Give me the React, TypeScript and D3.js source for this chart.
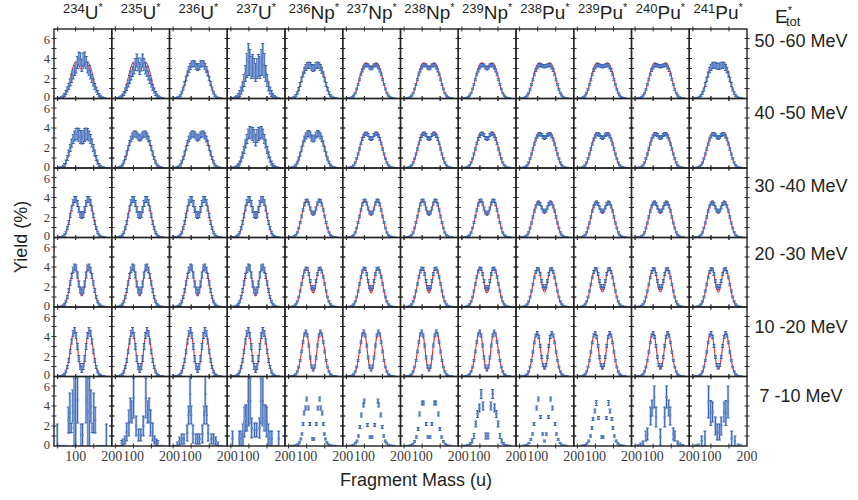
import React from 'react';
import * as d3 from 'd3';

// columns: compound nuclei
const ELEMENTS = ['U', 'U', 'U', 'U', 'Np', 'Np', 'Np', 'Np', 'Pu', 'Pu', 'Pu', 'Pu'];
const MASS_NUMBERS = [234, 235, 236, 237, 236, 237, 238, 239, 238, 239, 240, 241];
// rows: excitation energy bins
const ENERGY_BINS = ['50 -60 MeV', '40 -50 MeV', '30 -40 MeV', '20 -30 MeV', '10 -20 MeV', '7 -10 MeV'];

const Y_LABELS = [0, 2, 4, 6];
const Y_TICKS = [1, 2, 3, 4, 5, 6];
const X_LABELS = [100, 200];
const X_TICKS = [50, 100, 150];

// distance from symmetric mass A/2 (u), yields are symmetric
const OFFSETS = [0, 4, 8, 12, 16, 20, 24, 28, 32, 36, 40, 44, 48, 52, 56, 60, 64];

// model curves (red), rows 1-5, by element group
const MODEL_U = [
  [2.9, 3.0, 3.3, 3.6, 3.65, 3.5, 3.15, 2.65, 2.05, 1.45, 0.95, 0.55, 0.28, 0.12, 0.05, 0.02, 0.01],
  [2.7, 2.85, 3.2, 3.5, 3.6, 3.45, 3.1, 2.6, 2.0, 1.4, 0.9, 0.5, 0.25, 0.1, 0.04, 0.01, 0],
  [1.9, 2.1, 2.7, 3.4, 3.85, 3.9, 3.6, 3.0, 2.25, 1.5, 0.9, 0.45, 0.2, 0.08, 0.03, 0.01, 0],
  [1.1, 1.4, 2.2, 3.2, 3.9, 4.1, 3.85, 3.2, 2.4, 1.6, 0.95, 0.5, 0.22, 0.09, 0.03, 0.01, 0],
  [0.45, 0.8, 1.7, 3.0, 4.1, 4.6, 4.35, 3.6, 2.6, 1.65, 0.95, 0.45, 0.18, 0.06, 0.02, 0.01, 0],
];
const MODEL_NP = [
  [3.2, 3.25, 3.4, 3.55, 3.55, 3.4, 3.05, 2.6, 2.0, 1.4, 0.9, 0.5, 0.25, 0.1, 0.04, 0.01, 0],
  [2.85, 3.0, 3.3, 3.55, 3.6, 3.45, 3.05, 2.55, 1.95, 1.35, 0.85, 0.48, 0.22, 0.09, 0.03, 0.01, 0],
  [2.2, 2.4, 2.9, 3.45, 3.8, 3.75, 3.4, 2.8, 2.1, 1.45, 0.88, 0.45, 0.2, 0.08, 0.03, 0.01, 0],
  [1.4, 1.65, 2.4, 3.3, 3.85, 3.95, 3.65, 3.05, 2.3, 1.55, 0.92, 0.48, 0.21, 0.08, 0.03, 0.01, 0],
  [0.55, 0.9, 1.8, 3.05, 4.1, 4.5, 4.25, 3.5, 2.55, 1.6, 0.9, 0.45, 0.18, 0.06, 0.02, 0.01, 0],
];
const MODEL_PU = [
  [3.15, 3.2, 3.4, 3.55, 3.55, 3.4, 3.05, 2.6, 2.0, 1.4, 0.9, 0.5, 0.25, 0.1, 0.04, 0.01, 0],
  [2.9, 3.0, 3.3, 3.5, 3.55, 3.4, 3.0, 2.5, 1.95, 1.35, 0.85, 0.48, 0.22, 0.09, 0.03, 0.01, 0],
  [2.4, 2.55, 3.0, 3.45, 3.65, 3.55, 3.25, 2.7, 2.05, 1.45, 0.9, 0.48, 0.22, 0.09, 0.03, 0.01, 0],
  [1.5, 1.75, 2.45, 3.3, 3.85, 3.9, 3.6, 3.0, 2.3, 1.55, 0.92, 0.48, 0.21, 0.08, 0.03, 0.01, 0],
  [0.7, 1.0, 1.85, 3.05, 4.0, 4.4, 4.15, 3.45, 2.5, 1.6, 0.9, 0.45, 0.18, 0.06, 0.02, 0.01, 0],
];

// measured yields (blue), rows 1-5
const EXP_U = [
  [3.1, 3.2, 3.45, 3.5, 3.45, 3.2, 2.9, 2.5, 2.0, 1.5, 1.0, 0.6, 0.3, 0.15, 0.08, 0.04, 0.02],
  [3.0, 3.1, 3.3, 3.4, 3.4, 3.2, 2.9, 2.5, 2.0, 1.5, 1.0, 0.6, 0.3, 0.15, 0.07, 0.03, 0.02],
  [2.2, 2.3, 2.8, 3.4, 3.8, 3.8, 3.5, 2.9, 2.2, 1.5, 0.95, 0.5, 0.25, 0.12, 0.05, 0.02, 0.01],
  [1.5, 1.7, 2.3, 3.2, 3.9, 4.0, 3.7, 3.1, 2.4, 1.65, 1.0, 0.55, 0.27, 0.12, 0.05, 0.02, 0.01],
  [0.7, 1.0, 1.8, 3.0, 4.1, 4.6, 4.3, 3.5, 2.5, 1.6, 0.95, 0.5, 0.22, 0.1, 0.04, 0.02, 0.01],
];
const EXP_NP = [
  [3.0, 3.1, 3.3, 3.35, 3.3, 3.1, 2.8, 2.4, 1.9, 1.4, 0.95, 0.55, 0.3, 0.15, 0.07, 0.03, 0.02],
  [2.9, 3.0, 3.3, 3.45, 3.4, 3.2, 2.9, 2.45, 1.9, 1.4, 0.95, 0.55, 0.28, 0.13, 0.06, 0.03, 0.02],
  [2.4, 2.5, 2.9, 3.4, 3.7, 3.65, 3.3, 2.75, 2.1, 1.5, 0.95, 0.5, 0.25, 0.12, 0.05, 0.02, 0.01],
  [1.8, 2.0, 2.6, 3.3, 3.8, 3.85, 3.55, 3.0, 2.3, 1.6, 1.0, 0.55, 0.27, 0.12, 0.05, 0.02, 0.01],
  [0.7, 1.0, 1.9, 3.1, 4.1, 4.5, 4.2, 3.45, 2.5, 1.6, 0.95, 0.5, 0.22, 0.1, 0.04, 0.02, 0.01],
];
const EXP_PU = [
  [3.2, 3.25, 3.3, 3.35, 3.3, 3.1, 2.85, 2.4, 1.9, 1.4, 0.9, 0.55, 0.3, 0.15, 0.07, 0.03, 0.02],
  [3.0, 3.1, 3.3, 3.4, 3.35, 3.15, 2.85, 2.4, 1.9, 1.4, 0.95, 0.55, 0.28, 0.13, 0.06, 0.03, 0.02],
  [2.6, 2.7, 3.0, 3.35, 3.5, 3.4, 3.1, 2.65, 2.05, 1.45, 0.95, 0.52, 0.26, 0.12, 0.05, 0.02, 0.01],
  [1.9, 2.1, 2.6, 3.3, 3.75, 3.8, 3.5, 2.95, 2.25, 1.6, 1.0, 0.55, 0.27, 0.12, 0.05, 0.02, 0.01],
  [0.9, 1.15, 1.95, 3.05, 3.95, 4.35, 4.1, 3.4, 2.45, 1.6, 0.95, 0.5, 0.22, 0.1, 0.04, 0.02, 0.01],
];

// noisier panels measured separately
const EXP_OVERRIDE: Record<string, number[]> = {
  '0-0': [3.3, 3.9, 4.0, 3.6, 3.1, 2.8, 2.4, 2.0, 1.6, 1.2, 0.9, 0.6, 0.35, 0.2, 0.1, 0.05, 0.03],
  '0-1': [3.0, 3.4, 3.8, 3.4, 3.0, 2.7, 2.3, 1.9, 1.5, 1.1, 0.8, 0.5, 0.3, 0.15, 0.08, 0.04, 0.02],
  '0-3': [2.6, 3.0, 3.3, 3.1, 3.6, 3.9, 3.3, 2.5, 1.8, 1.2, 0.8, 0.5, 0.3, 0.15, 0.08, 0.04, 0.02],
  '1-3': [2.8, 3.2, 3.4, 3.5, 3.6, 3.4, 2.9, 2.4, 1.8, 1.3, 0.85, 0.5, 0.28, 0.14, 0.07, 0.03, 0.02],
};

// uncertainty profiles
const ERR_SMALL = [0.15, 0.15, 0.15, 0.15, 0.15, 0.15, 0.15, 0.12, 0.12, 0.1, 0.08, 0.06, 0.05, 0.04, 0.03, 0.02, 0.02];
const ERR_MED = [0.3, 0.3, 0.3, 0.3, 0.3, 0.3, 0.28, 0.25, 0.22, 0.2, 0.15, 0.12, 0.1, 0.08, 0.05, 0.04, 0.03];
const ERR_LARGE = [0.6, 0.65, 0.65, 0.6, 0.55, 0.5, 0.45, 0.4, 0.35, 0.3, 0.25, 0.2, 0.15, 0.12, 0.08, 0.05, 0.04];
const ERR_XL = [0.9, 1.0, 1.1, 1.1, 1.3, 1.6, 1.2, 0.8, 0.6, 0.45, 0.35, 0.3, 0.2, 0.15, 0.1, 0.06, 0.04];
const ERR_TABLE = [
  ['L', 'L', 'M', 'X', 'M', 'S', 'S', 'S', 'S', 'S', 'S', 'M'],
  ['L', 'M', 'M', 'L', 'M', 'S', 'S', 'S', 'S', 'S', 'S', 'S'],
  ['M', 'M', 'M', 'M', 'S', 'S', 'S', 'S', 'S', 'S', 'S', 'S'],
  ['M', 'M', 'M', 'M', 'S', 'S', 'S', 'S', 'S', 'S', 'S', 'S'],
  ['M', 'M', 'M', 'M', 'S', 'S', 'S', 'S', 'S', 'S', 'S', 'S'],
];

// lowest energy bin: [distance from A/2, yield, error]
const LOW_E: number[][][] = [
  [[2, 1.1, 1.1], [12, 4.6, 2.3], [17, 3.5, 3.5], [21, 3.4, 3.4], [25, 4.0, 1.6], [29, 1.8, 0.45], [33, 3.3, 2.0], [37, 2.6, 1.3], [42, 0, 0], [47, 0, 0], [52, 0, 0], [57, 0, 0], [62, 0, 0], [68, 0, 2.2]],
  [[3, 1.1, 0.6], [10, 2.0, 1.0], [17, 4.8, 2.0], [22, 3.4, 1.1], [26, 3.6, 1.2], [30, 2.3, 1.3], [36, 1.4, 0.9], [41, 0.6, 0.4], [46, 0.4, 0.3], [50, 0.3, 0.25], [55, 0, 0], [60, 0, 0], [65, 0, 0]],
  [[0, 0.7, 0.5], [5, 0.7, 0.5], [13, 1.2, 0.9], [18, 3.1, 0.9], [21, 5.2, 1.8], [25, 3.1, 0.9], [29, 1.3, 0.8], [38, 0.7, 0.5], [44, 0.7, 0.5], [50, 0.5, 0.4], [56, 0.2, 0.2], [62, 0, 0], [68, 0, 0]],
  [[3, 1.6, 0.7], [11, 1.8, 1.0], [15, 4.5, 2.3], [20, 4.5, 2.5], [24, 2.8, 1.3], [28, 2.8, 1.3], [31, 2.4, 1.5], [35, 1.1, 1.1], [40, 0.75, 0.75], [45, 0.75, 0.75], [55, 0, 0], [64, 0.75, 0.75]],
  [[2, 0.7, 0.12], [9, 2.2, 0.15], [13, 3.8, 0.2], [18, 4.7, 0.2], [21, 3.8, 0.2], [25, 3.3, 0.2], [28, 2.2, 0.15], [31, 1.2, 0.12], [34, 0.7, 0.1], [38, 0.35, 0.08], [42, 0.15, 0.06], [46, 0.08, 0.05], [51, 0.04, 0.03], [56, 0.02, 0.02], [62, 0.01, 0.01]],
  [[3, 0.9, 0.12], [10, 2.1, 0.15], [19, 4.5, 0.2], [21, 4.1, 0.2], [27, 3.1, 0.2], [31, 1.9, 0.15], [35, 1.0, 0.12], [39, 0.5, 0.1], [43, 0.3, 0.08], [48, 0.12, 0.05], [53, 0.05, 0.03], [58, 0.02, 0.02], [64, 0.01, 0.01]],
  [[3, 0.9, 0.12], [8, 2.2, 0.15], [15, 4.3, 0.2], [19, 4.3, 0.2], [26, 3.2, 0.2], [30, 1.7, 0.15], [35, 0.9, 0.12], [40, 0.45, 0.1], [45, 0.2, 0.06], [50, 0.08, 0.04], [56, 0.03, 0.02], [62, 0.01, 0.01]],
  [[3, 1.0, 0.3], [11, 4.0, 0.4], [16, 5.2, 0.45], [21, 3.8, 0.4], [26, 3.2, 0.35], [31, 2.2, 0.3], [36, 1.0, 0.25], [41, 0.5, 0.2], [46, 0.25, 0.1], [52, 0.1, 0.06], [58, 0.04, 0.03], [64, 0.01, 0.01]],
  [[0, 0.5, 0.1], [5, 1.2, 0.12], [11, 2.9, 0.15], [17, 4.7, 0.2], [22, 3.8, 0.2], [29, 2.2, 0.15], [33, 1.2, 0.12], [38, 0.65, 0.1], [43, 0.3, 0.06], [48, 0.12, 0.04], [54, 0.05, 0.03], [60, 0.02, 0.02]],
  [[2, 0.9, 0.12], [11, 2.8, 0.15], [17, 4.3, 0.25], [21, 3.5, 0.2], [26, 2.7, 0.15], [29, 1.8, 0.15], [33, 1.0, 0.12], [38, 0.5, 0.1], [43, 0.25, 0.06], [48, 0.1, 0.04], [54, 0.04, 0.03], [60, 0.02, 0.02]],
  [[0, 0.9, 0.8], [12, 2.9, 1.0], [17, 4.9, 1.1], [23, 3.8, 0.8], [27, 3.0, 0.9], [36, 1.2, 0.6], [40, 1.0, 0.5], [48, 0.2, 0.3], [55, 0.1, 0.2], [62, 0.05, 0.1]],
  [[3, 1.4, 0.8], [8, 2.0, 0.9], [16, 3.4, 1.0], [21, 3.3, 1.25], [27, 4.4, 1.6], [37, 0.75, 0.75], [46, 0.5, 0.5], [55, 0.1, 0.1], [62, 0.05, 0.05]],
];

const LEFT = 54;
const TOP = 29;
const COL_W = 57.75;
const ROW_H = 69.5;
const ROW_LABEL_Y = [46.5, 118.5, 191.5, 259.5, 332.5, 401.5];

const SANS = '"Liberation Sans", Arial, sans-serif';
const SERIF = '"Liberation Serif", "Times New Roman", serif';
const INK = '#231f20';

const x = d3.scaleLinear().domain([40, 200]).range([0, COL_W]);
const y = d3.scaleLinear().domain([0, 6.95]).range([ROW_H, 0]);

const errFor = (k: string) => (k === 'S' ? ERR_SMALL : k === 'M' ? ERR_MED : k === 'L' ? ERR_LARGE : ERR_XL);

type Pt = { m: number; v: number; e: number };

function mirror(center: number, half: number[][]): Pt[] {
  const pts: Pt[] = [];
  half.forEach(([d, v, e]) => {
    if (d === 0) pts.push({ m: center, v, e });
    else {
      pts.push({ m: center - d, v, e });
      pts.push({ m: center + d, v, e });
    }
  });
  return pts.sort((a, b) => a.m - b.m);
}

const line = d3
  .line<Pt>()
  .x((p) => x(p.m))
  .y((p) => y(p.v))
  .curve(d3.curveCatmullRom.alpha(0.5));

function Panel({ row, col }: { row: number; col: number }) {
  const center = MASS_NUMBERS[col] / 2;
  const grp = ELEMENTS[col] === 'U' ? 0 : ELEMENTS[col] === 'Np' ? 1 : 2;
  let model: Pt[] | null = null;
  let pts: Pt[];
  if (row < 5) {
    const m = [MODEL_U, MODEL_NP, MODEL_PU][grp][row];
    model = mirror(center, OFFSETS.map((d, i) => [d, m[i], 0]));
    const ex = EXP_OVERRIDE[`${row}-${col}`] || [EXP_U, EXP_NP, EXP_PU][grp][row];
    const er = errFor(ERR_TABLE[row][col]);
    pts = mirror(center, OFFSETS.map((d, i) => [d, ex[i], er[i]]));
  } else {
    pts = mirror(center, LOW_E[col]);
  }
  const tx = LEFT + col * COL_W;
  const ty = TOP + row * ROW_H;
  return (
    <g transform={`translate(${tx},${ty})`}>
      <g clipPath="url(#panel-clip)">
        {model && <path d={line(model) || ''} fill="none" stroke="#e8262b" strokeWidth={1.1} />}
        {pts.map((p, i) => {
          const cx = x(p.m);
          const cy = y(p.v);
          const t = y(p.v + p.e);
          const b = y(p.v - p.e);
          return (
            <g key={i}>
              {p.e > 0.25 && <rect x={cx - 1.2} y={t} width={2.4} height={b - t} fill="#9fb6e2" opacity={0.85} />}
              {p.e > 0 && (
                <g stroke="#2c5aa8" strokeWidth={0.9}>
                  <line x1={cx} x2={cx} y1={t} y2={b} />
                  <line x1={cx - 1.5} x2={cx + 1.5} y1={t} y2={t} />
                  <line x1={cx - 1.5} x2={cx + 1.5} y1={b} y2={b} />
                </g>
              )}
              <rect x={cx - 1.1} y={cy - 1.1} width={2.2} height={2.2} fill="#5a82cc" />
            </g>
          );
        })}
      </g>
      <g stroke="#333" strokeWidth={1}>
        {Y_TICKS.map((t) => (
          <g key={t}>
            <line x1={-2.5} x2={2.5} y1={y(t)} y2={y(t)} />
            <line x1={COL_W - 2.5} x2={COL_W + 2.5} y1={y(t)} y2={y(t)} />
          </g>
        ))}
        {X_TICKS.map((t) => (
          <g key={t}>
            <line x1={x(t)} x2={x(t)} y1={-2.5} y2={2.5} />
            <line x1={x(t)} x2={x(t)} y1={ROW_H - 2.5} y2={ROW_H + 2.5} />
          </g>
        ))}
      </g>
      <rect x={0} y={0} width={COL_W} height={ROW_H} fill="none" stroke="#222" strokeWidth={1.4} />
    </g>
  );
}

export default function App() {
  const bottom = TOP + ENERGY_BINS.length * ROW_H;
  return (
    <svg width={858} height={500} style={{ display: 'block', position: 'absolute', left: 0, top: 0, background: '#fff' }}>
      <defs>
        <clipPath id="panel-clip">
          <rect x={0} y={0} width={COL_W} height={ROW_H} />
        </clipPath>
      </defs>
      {ENERGY_BINS.map((_, r) => MASS_NUMBERS.map((_, c) => <Panel key={`${r}-${c}`} row={r} col={c} />))}

      {/* y tick labels; the 0 and 6 of neighbouring rows sit close, as in the original */}
      {ENERGY_BINS.map((_, r) =>
        Y_LABELS.map((v) => (
          <text
            key={`${r}-${v}`}
            x={LEFT - 4}
            y={TOP + r * ROW_H + y(v) + (v === 0 ? 2.5 : v === 6 ? 5 : 4)}
            textAnchor="end"
            fontFamily={SERIF}
            fontSize={12.5}
            fill="#3a3a3a"
          >
            {v}
          </text>
        ))
      )}
      {/* x tick labels */}
      {MASS_NUMBERS.map((_, c) =>
        X_LABELS.map((v) => (
          <text key={`${c}-${v}`} x={LEFT + c * COL_W + x(v)} y={bottom + 15} textAnchor="middle" fontFamily={SERIF} fontSize={14} fill="#3a3a3a">
            {v}
          </text>
        ))
      )}

      {/* column titles */}
      {MASS_NUMBERS.map((a, c) => (
        <text key={c} x={LEFT + c * COL_W + COL_W / 2} y={19} textAnchor="middle" fontFamily={SANS} fill={INK}>
          <tspan fontSize={13} dy={-6}>{a}</tspan>
          <tspan fontSize={19} dy={6}>{ELEMENTS[c]}</tspan>
          <tspan fontSize={11} dy={-8}>*</tspan>
        </text>
      ))}
      <text x={775} y={23} fontFamily={SANS} fill={INK}>
        <tspan fontSize={19}>E</tspan>
        <tspan fontSize={11} dy={-9}>*</tspan>
        <tspan fontSize={13} dx={-6} dy={12}>tot</tspan>
      </text>

      {/* energy bin labels */}
      {ENERGY_BINS.map((lab, r) => (
        <text key={lab} x={801} y={ROW_LABEL_Y[r]} textAnchor="middle" fontFamily={SANS} fontSize={18} fill={INK}>
          {lab}
        </text>
      ))}

      <text transform="translate(27,237) rotate(-90)" textAnchor="middle" fontFamily={SANS} fontSize={18} fill={INK}>
        Yield (%)
      </text>
      <text x={416} y={486} textAnchor="middle" fontFamily={SANS} fontSize={18} fill={INK}>
        Fragment Mass (u)
      </text>
    </svg>
  );
}
